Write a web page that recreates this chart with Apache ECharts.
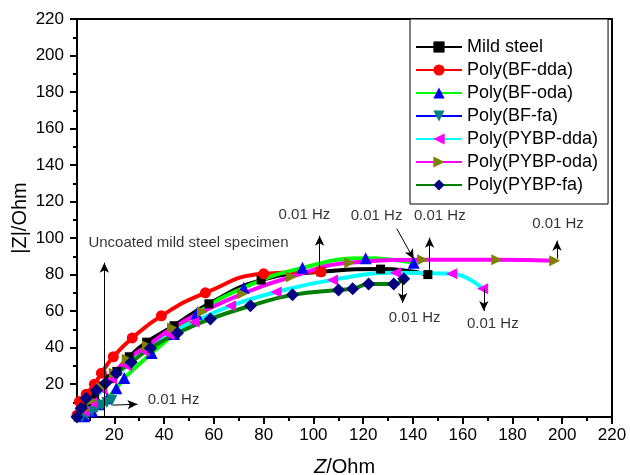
<!DOCTYPE html>
<html>
<head>
<meta charset="utf-8">
<title>Nyquist plot</title>
<script src="https://cdn.jsdelivr.net/npm/echarts/dist/echarts.min.js"></script>
<style>
    html, body { margin: 0; padding: 0; background: #fff; }
    #chart { width: 630px; height: 475px; }
</style>
</head>
<body>
<div id="chart"></div>
<script>
// 曲线数据 [Z, |Z|]
var mildSteel = [[5.5,2],[7,5],[9,9],[12,14],[15,19],[18,23],[21,27],[26,35],[33,43],[44,52],[58,64],[79,77],[103,81.5],[127,83],[146,80]];
var bfDda = [[5,3],[6,10.5],[8.7,14.5],[12,20],[14.8,26],[19.6,35],[27.2,45.3],[38.9,57.4],[56.6,70],[80,80.4],[103,81.5]];
var bfOda = [[5,1],[7.9,2.4],[11.1,5.2],[14,9],[17.2,12.3],[20.8,17.8],[24,23.3],[35,37],[44,47.5],[53,58.5],[72,72.8],[95.6,83.7],[121,89],[140.3,86.5]];
var bfFa = [[5,0.5],[7,2],[9,3.5],[11,5],[13,7],[15,8.5],[17,10],[19,11]];
var pybpDda = [[5,1],[8,5],[11,10],[15,17],[19,23],[25,30],[32,38],[42,47],[52,54],[66.7,62.9],[85,70.5],[107.7,77.1],[133,81],[155.6,80.4],[168,72.2]];
var pybpOda = [[5,1],[8,6],[11,11],[15,18],[20,26],[25.2,33.7],[33.3,41],[43.4,50.8],[55.4,59.6],[71.5,69.5],[91.2,78.8],[114.6,86.5],[143.9,88.1],[173.7,88.1],[197,87.6]];
var pybpFa = [[5,2],[6.7,6.8],[8.7,12.3],[12.8,16.7],[16.4,20.5],[20.8,26],[26.8,32],[34.5,39.7],[45.4,48],[58.6,55.7],[74.7,62.9],[91.6,68.9],[110.1,71.6],[115.8,72.2],[122.2,74.9],[132.3,74.9],[136.3,77.7]];

var seriesNames = ['Mild steel','Poly(BF-dda)','Poly(BF-oda)','Poly(BF-fa)','Poly(PYBP-dda)','Poly(PYBP-oda)','Poly(PYBP-fa)'];

// 刻度
var majorTicks = [20,40,60,80,100,120,140,160,180,200,220];
var minorTicks = [10,30,50,70,90,110,130,150,170,190,210];

// 注释：箭头起止点和文字
var arrows = [
    [[16,2.5],[16,86.5]],
    [[102.5,83.5],[102.5,101.3]],
    [[146.7,82],[146.7,100.2]],
    [[133.5,105.2],[140.3,88.5]],
    [[197.9,88.7],[197.9,98.6]],
    [[135.9,77.7],[135.9,64.5]],
    [[168.5,72.2],[168.5,60.1]],
    [[19.3,8.5],[29.3,9]]
];
var notes = [
    [49.8,97.6,'Uncoated mild steel specimen'],
    [96.4,112.9,'0.01 Hz'],
    [150.8,112.3,'0.01 Hz'],
    [125.4,112.3,'0.01 Hz'],
    [198.3,108,'0.01 Hz'],
    [140.7,56.3,'0.01 Hz'],
    [172.1,53,'0.01 Hz'],
    [43.8,11.3,'0.01 Hz']
];

var font = 'Liberation Sans, Arial, Helvetica, sans-serif';

function curve(name, data, lineColor, symbolColor, symbol, size) {
    return {
        name: name,
        type: 'line',
        data: data,
        smooth: 0.5,
        symbol: symbol,
        symbolSize: size,
        showAllSymbol: true,
        lineStyle: { color: lineColor, width: 4 },
        itemStyle: { color: symbolColor },
        z: 3
    };
}

var chart = echarts.init(document.getElementById('chart'));

var option = {
    animation: false,
    textStyle: { fontFamily: font },
    grid: {
        left: 77, right: 18, top: 19, bottom: 58,
        outerBoundsMode: 'none',
        show: true, borderColor: '#000', borderWidth: 2
    },
    legend: {
        data: seriesNames,
        orient: 'vertical',
        left: 410, top: 19,
        padding: [19, 10, 10, 5],
        itemWidth: 46, itemHeight: 14, itemGap: 5,
        backgroundColor: '#fff',
        borderColor: '#000', borderWidth: 1,
        textStyle: { fontSize: 18, color: '#000', fontFamily: font }
    },
    xAxis: [{
        type: 'value', min: 5, max: 220,
        name: '{i|Z}/Ohm', nameLocation: 'middle', nameGap: 40,
        nameMoveOverlap: false,
        nameTextStyle: {
            fontSize: 20, color: '#000',
            rich: { i: { fontStyle: 'italic', fontSize: 20, color: '#000' } }
        },
        axisLine: { show: true, lineStyle: { color: '#000', width: 2 } },
        axisTick: { show: true, length: 7, customValues: majorTicks, lineStyle: { color: '#000', width: 2 } },
        axisLabel: { customValues: majorTicks, fontSize: 17, color: '#000', margin: 10 },
        splitLine: { show: false }
    }, {
        // 次刻度
        type: 'value', min: 5, max: 220, position: 'bottom',
        axisLine: { show: false },
        axisTick: { show: true, length: 4, customValues: minorTicks, lineStyle: { color: '#000', width: 2 } },
        axisLabel: { show: false },
        splitLine: { show: false }
    }],
    yAxis: [{
        type: 'value', min: 2, max: 220,
        name: '|Z|/Ohm', nameLocation: 'middle', nameGap: 47,
        nameMoveOverlap: false,
        nameTextStyle: { fontSize: 20, color: '#000' },
        axisLine: { show: true, lineStyle: { color: '#000', width: 2 } },
        axisTick: { show: true, length: 7, customValues: majorTicks, lineStyle: { color: '#000', width: 2 } },
        axisLabel: { customValues: majorTicks, fontSize: 17, color: '#000', margin: 13 },
        splitLine: { show: false }
    }, {
        type: 'value', min: 2, max: 220, position: 'left', alignTicks: false,
        axisLine: { show: false },
        axisTick: { show: true, length: 4, customValues: minorTicks, lineStyle: { color: '#000', width: 2 } },
        axisLabel: { show: false },
        splitLine: { show: false }
    }],
    series: [
        curve(seriesNames[0], mildSteel, '#000000', '#000000', 'rect', 9),
        curve(seriesNames[1], bfDda, '#ff0000', '#ff0000', 'circle', 11),
        curve(seriesNames[2], bfOda, '#00ff00', '#0000ff', 'triangle', 12),
        curve(seriesNames[3], bfFa, '#0000ff', '#008080', 'path://M0,0 L10,0 L5,10 Z', 11),
        curve(seriesNames[4], pybpDda, '#00ffff', '#ff00ff', 'path://M10,0 L10,10 L0,5 Z', 11),
        curve(seriesNames[5], pybpOda, '#ff00ff', '#808000', 'path://M0,0 L0,10 L10,5 Z', 11),
        curve(seriesNames[6], pybpFa, '#008000', '#000080', 'diamond', 13),
        {
            // 注释文字和箭头
            name: 'notes',
            type: 'scatter',
            symbolSize: 0,
            silent: true,
            z: 5,
            data: notes.map(function (n) { return { value: [n[0], n[1]], text: n[2] }; }),
            label: {
                show: true, position: 'inside', color: '#000',
                fontSize: 15, fontFamily: font,
                formatter: function (p) { return p.data.text; }
            },
            markLine: {
                silent: true,
                symbol: ['none', 'arrow'],
                symbolSize: [7, 10],
                label: { show: false },
                lineStyle: { color: '#000', width: 1, type: 'solid' },
                data: arrows.map(function (a) {
                    return [{ coord: a[0] }, { coord: a[1] }];
                })
            }
        }
    ]
};

chart.setOption(option);
</script>
</body>
</html>
